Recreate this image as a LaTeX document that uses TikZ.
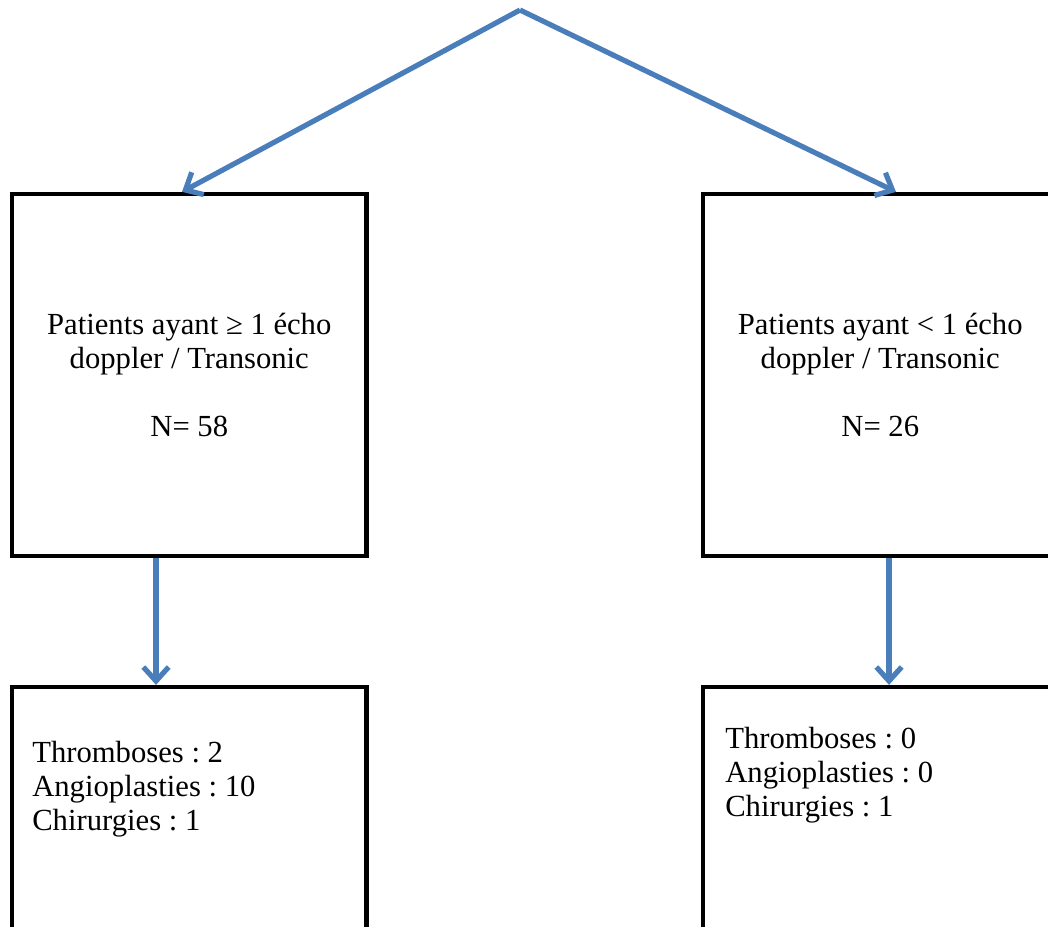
\documentclass[tikz,border=0pt]{standalone}
\usepackage{fontspec}
\setmainfont{Liberation Serif}
\usetikzlibrary{positioning, arrows.meta}
\definecolor{flowblue}{RGB}{74,126,187}
\frenchspacing

\begin{document}
\begin{tikzpicture}[x=0.75pt,y=-0.75pt,font=\fontsize{23}{25.5}\selectfont,
    box/.style={draw=black,line width=3.2pt,minimum width=265.9pt,
      minimum height=271.5pt,align=center,inner sep=0pt},
    flow/.style={draw=flowblue,line width=3.9pt,
      -{Straight Barb[length=10.5pt,width=19pt]}},
    result/.style={anchor=north west,align=left,inner sep=0pt}]
    \clip (0,0) rectangle (1048,926);
    \coordinate (apex) at (520,10);

    % groups
    \node[box] (ltop) at (189.25,375)
      {Patients ayant ≥ 1 écho\\doppler / Transonic\\[25.5pt]N= 58};
    \node[box] (rtop) at (880.25,375)
      {Patients ayant < 1 écho\\doppler / Transonic\\[25.5pt]N= 26};

    % outcomes
    \node[box] (lbot) at (189.25,868) {};
    \node[box] (rbot) at (880.25,868) {};
    \node[result] (lres) at (32,741)
      {Thromboses : 2\\Angioplasties : 10\\Chirurgies : 1};
    \node[result] (rres) at (725,727)
      {Thromboses : 0\\Angioplasties : 0\\Chirurgies : 1};

    \draw[flow] (apex) -- (ltop.north -| 182,0);
    \draw[flow] (apex) -- (rtop.north -| 896,0);
    \draw[flow] (ltop.south -| 156,0) -- (lbot.north -| 156,0);
    \draw[flow] (rtop.south -| 889,0) -- (rbot.north -| 889,0);
\end{tikzpicture}
\end{document}
